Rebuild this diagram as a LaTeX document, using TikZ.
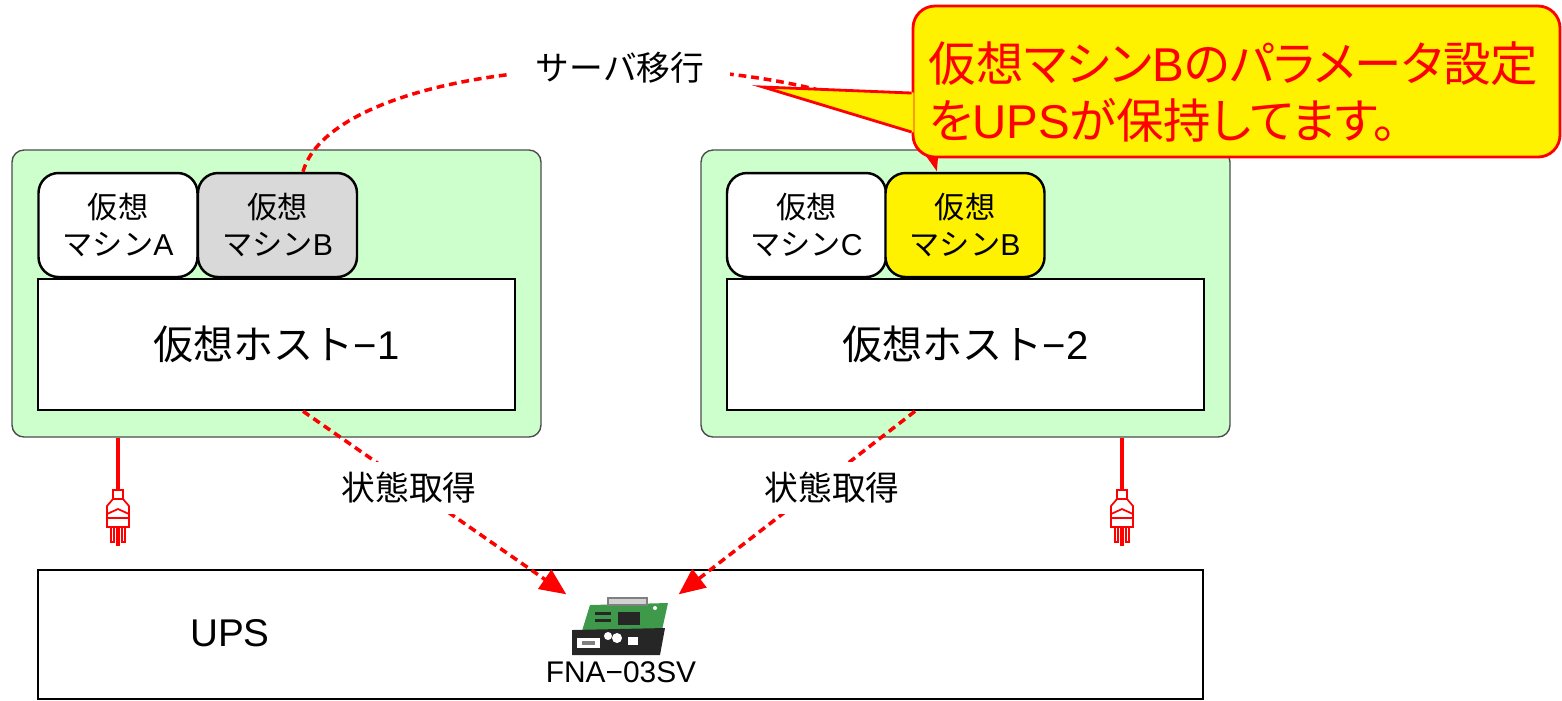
\documentclass[tikz,border=0pt]{standalone}
\usepackage{fontspec}
\setmainfont{Noto Sans CJK JP}
\newfontfamily\latin{Liberation Sans}
\newfontfamily\notefont[RawFeature=+palt]{Noto Sans CJK JP}
\usetikzlibrary{arrows.meta,calc}

\definecolor{hostgreen}{HTML}{CCFFCC}
\definecolor{vmgray}{HTML}{D9D9D9}
\definecolor{pcb}{HTML}{3E9A4A}

\tikzset{
  server/.style={draw=black!70, fill=hostgreen, rounded corners=0.12cm, line width=0.4pt,
    minimum width=5.29cm, minimum height=2.87cm, inner sep=0},
  vm/.style={draw, fill=white, rounded corners=0.2cm, line width=0.7pt, minimum width=1.59cm,
    minimum height=1.04cm, inner sep=0, align=center, font=\fontsize{8.6}{10.8}\selectfont},
  host/.style={draw, fill=white, line width=0.7pt, minimum width=4.77cm, minimum height=1.31cm,
    inner sep=0, font=\fontsize{11.4}{13}\selectfont},
  reddash/.style={red, line width=1pt, dash pattern=on 2.2pt off 1.4pt},
  lbl/.style={fill=white, text=black, inner sep=0.1cm, font=\fontsize{9.6}{11}\selectfont},
}

\begin{document}
\begin{tikzpicture}
	\useasboundingbox (0,0) rectangle (15.62,-7);
	% two hosts with their VMs
	\node[server] (srv1) at (2.765,-2.935) {};
	\node[server] (srv2) at (9.655,-2.935) {};
	\node[vm] (vmA) at (1.18,-2.25) {仮想\\マシン{\latin A}};
	\node[vm,fill=vmgray] (vmB1) at (2.775,-2.25) {仮想\\マシン{\latin B}};
	\node[vm] (vmC) at (8.065,-2.25) {仮想\\マシン{\latin C}};
	\node[vm,fill=yellow] (vmB2) at (9.65,-2.25) {仮想\\マシン{\latin B}};
	\node[host] (host1) at (2.765,-3.445) {仮想ホスト{\latin −1}};
	\node[host] (host2) at (9.655,-3.445) {仮想ホスト{\latin −2}};

	% UPS with the network card
	\node[draw, line width=0.7pt, minimum width=11.65cm, minimum height=1.29cm, inner sep=0] (ups) at (6.205,-6.345) {};
	\node[font=\fontsize{11}{13}\latin] (upslbl) at (2.30,-6.33) {UPS};
	\node[minimum width=1.11cm, minimum height=0.6cm, inner sep=0] (card) at (6.225,-6.25) {};
	\fill[pcb] (5.90,-6.05) -- (6.68,-6.03) -- (6.62,-6.30) -- (5.82,-6.31) -- cycle;
	\filldraw[draw=gray, fill=gray!35] (6.08,-5.98) rectangle (6.47,-6.05);
	\fill[black!85] (5.95,-6.12) rectangle (6.11,-6.15);
	\fill[black!85] (5.95,-6.19) rectangle (6.11,-6.22);
	\fill[black!85] (6.18,-6.12) rectangle (6.40,-6.25);
	\fill[white] (6.55,-6.08) circle (0.02);
	\fill[black!85] (5.72,-6.30) -- (6.65,-6.28) -- (6.60,-6.55) -- (5.72,-6.55) -- cycle;
	\fill[white] (5.77,-6.38) rectangle (6.00,-6.48);
	\fill[gray] (5.82,-6.41) rectangle (5.95,-6.45);
	\fill[white] (6.08,-6.36) circle (0.04);
	\fill[white] (6.17,-6.38) circle (0.05);
	\fill[white] (6.28,-6.37) rectangle (6.38,-6.45);
	\node[font=\fontsize{8.5}{10}\latin] (cardlbl) at (6.21,-6.72) {FNA−03SV};

	% power cords
	\foreach \px/\s in {1.18/srv1,11.22/srv2}{
		\coordinate (plug\s) at (\px,-4.90);
		\draw[red, line width=1.1pt] (\s.south -| plug\s) -- (plug\s);
		\begin{scope}[shift={(plug\s)}, red, line width=0.5pt, fill=white]
			\filldraw (-0.05,0) rectangle (0.05,-0.09);
			\filldraw (-0.05,-0.09) -- (-0.11,-0.16) -- (-0.11,-0.28) -- (0.11,-0.28) -- (0.11,-0.16) -- (0.05,-0.09) -- cycle;
			\draw (-0.11,-0.24) -- (0,-0.19) -- (0.11,-0.24);
			\filldraw (-0.11,-0.28) rectangle (0.11,-0.37);
			\filldraw (-0.07,-0.37) rectangle (-0.04,-0.52);
			\filldraw (-0.01,-0.37) rectangle (0.01,-0.55);
			\filldraw (0.04,-0.37) rectangle (0.07,-0.52);
		\end{scope}
	}

	% status polling
	\draw[reddash, -{Triangle[length=7.5pt,width=6.5pt]}] ($(host1.south)+(0.265,0)$) -- (card.north west);
	\draw[reddash, -{Triangle[length=7.5pt,width=6.5pt]}] ($(host2.south)+(-0.505,0)$) -- (card.north east);
	\node[lbl] (get1) at (4.09,-4.88) {状態取得};
	\node[lbl] (get2) at (8.32,-4.88) {状態取得};

	% migration of VM B
	\draw[reddash, -{Triangle[length=5.5pt,width=3.6pt]}] ($(vmB1.north)+(0.255,0)$)
		.. controls (3.20,-1.10) and (4.50,-0.68) .. (6.20,-0.68)
		node[lbl, inner xsep=0.26cm] (mig) {サーバ移行}
		.. controls (7.90,-0.68) and (9.20,-1.10) .. ($(vmB2.north)+(-0.28,0)$);

	% balloon
	\node[draw=red, fill=yellow, line width=0.8pt, rounded corners=0.22cm, minimum width=6.47cm,
		minimum height=1.51cm, inner sep=0] (note) at (12.365,-0.815) {};
	\coordinate (tip) at (7.63,-0.87);
	\fill[yellow] ($(note.west)+(0.02,-0.11)$) -- (tip) -- ($(note.west)+(0.02,-0.51)$) -- cycle;
	\draw[red, line width=0.8pt] ($(note.west)+(0,-0.115)$) -- (tip) -- ($(note.west)+(0,-0.505)$);
	\node[anchor=west, red, align=left, inner sep=0, font=\fontsize{13.5}{16.2}\notefont] (notetxt) at (9.28,-0.915)
		{仮想マシン{\latin B}のパラメータ設定\\を{\latin UPS}が保持してます。};
\end{tikzpicture}
\end{document}
